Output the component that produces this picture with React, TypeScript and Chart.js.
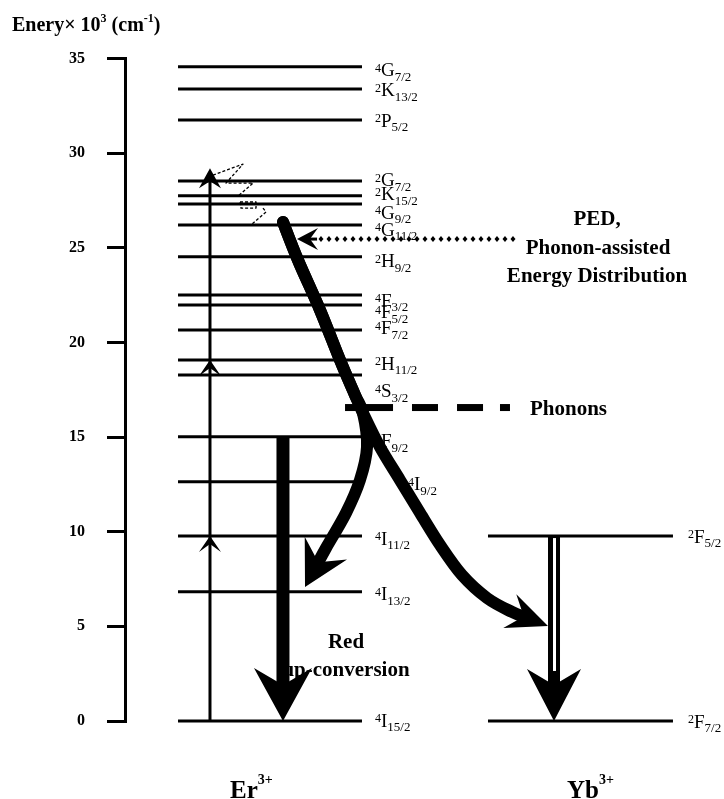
import React, { useEffect, useRef } from "react";
import { Chart, registerables } from "chart.js";

Chart.register(...registerables);

// ---------------- data ----------------
// Er3+ levels (energy in 10^3 cm^-1)
const erMultiplicity = ["4", "2", "2", "2", "2", "4", "4", "2", "4", "4", "4", "2", "4", "4", "4", "4", "4", "4"];
const erLetter = ["G", "K", "P", "G", "K", "G", "G", "H", "F", "F", "F", "H", "S", "F", "I", "I", "I", "I"];
const erJ = ["7/2", "13/2", "5/2", "7/2", "15/2", "9/2", "11/2", "9/2", "3/2", "5/2", "7/2", "11/2", "3/2", "9/2", "9/2", "11/2", "13/2", "15/2"];
const erEnergy = [34.56, 33.39, 31.75, 28.53, 27.75, 27.31, 26.2, 24.53, 22.5, 21.98, 20.66, 19.07, 18.28, 15.02, 12.64, 9.77, 6.83, 0];

// Yb3+ levels
const ybMultiplicity = ["2", "2"];
const ybLetter = ["F", "F"];
const ybJ = ["5/2", "7/2"];
const ybEnergy = [9.77, 0];

const yTickValues = [0, 5, 10, 15, 20, 25, 30, 35];

// transitions (energies)
const pumpSteps = [0, 9.77, 19.07, 29.2];
const redEmission = [15.02, 0];
const ybDecay = [9.77, 0];
const pedEnergy = 25.46;
const phononEnergy = 16.56;

// curved relaxation path: x (layout units 0-100), energy
const relaxX = [26.73, 29.27, 33.0, 36.38, 38.92, 40.27];
const relaxE = [26.36, 24.35, 21.71, 19.07, 17.22, 16.27];
const redBranchX = [40.95, 39.76, 37.39, 34.01, 30.46];
const redBranchE = [14.47, 12.73, 10.99, 9.14, 7.08];
const ybBranchX = [43.15, 46.53, 49.92, 53.3, 57.02, 61.25, 65.48, 71.57];
const ybBranchE = [14.47, 12.73, 10.99, 9.3, 7.71, 6.5, 5.76, 5.02];

// phonon squiggle near top (x units, energy)
const squiggleA = [[14.89, 28.84], [19.97, 29.42], [17.09, 28.42], [21.66, 28.42], [19.12, 27.73]];
const squiggleB = [[19.46, 27.42], [22.17, 27.42], [22.17, 27.1], [19.63, 27.1], [19.46, 27.42]];
const squiggleC = [[23.35, 27.1], [23.86, 26.89], [21.49, 26.25]];

// ---------------- layout (x units) ----------------
const ER_X0 = 8.97;
const ER_X1 = 40.1;
const YB_X0 = 61.42;
const YB_X1 = 92.72;
const PUMP_X = 14.38;
const RED_X = 26.73;
const YB_ARROW_X = 72.59;
const ER_LABEL_X = 42.3;
const YB_LABEL_X = 95.26;
const PED_X0 = 65.65;
const PED_DOTS_END = 32.5;
const PED_TIP = 29.1;
const PHONON_SEGS = [[37.23, 45.35], [48.56, 52.96], [56.18, 60.58], [63.45, 65.14]];

const erLabelDy = [3, 1, 0, -1, -2, 8, 4, 4, 5, 7, -2, 3, 16, 4, 2, 2, 2, -1];
const erLabelDx = [0, 0, 0, 0, 0, 0, 0, 0, 0, 0, 0, 0, 0, 0, 33, 0, 0, 0];
const ybLabelDy = [0, 0];

const SERIF = '"Liberation Serif", "Times New Roman", serif';

function runText(ctx: CanvasRenderingContext2D, x: number, y: number, parts: [string, string, number][]) {
  let cx = x;
  for (const [t, f, dy] of parts) {
    ctx.font = f;
    ctx.fillText(t, cx, y + dy);
    cx += ctx.measureText(t).width;
  }
  return cx;
}

function head(ctx: CanvasRenderingContext2D, tx: number, ty: number, ang: number, len: number, hw: number, notch: number) {
  const c = Math.cos(ang), s = Math.sin(ang);
  const bx = tx - c * len, by = ty - s * len;
  const nx = tx - c * notch, ny = ty - s * notch;
  ctx.beginPath();
  ctx.moveTo(tx, ty);
  ctx.lineTo(bx - s * hw, by + c * hw);
  ctx.lineTo(nx, ny);
  ctx.lineTo(bx + s * hw, by - c * hw);
  ctx.closePath();
  ctx.fill();
}

function smoothPath(ctx: CanvasRenderingContext2D, pts: number[][]) {
  ctx.moveTo(pts[0][0], pts[0][1]);
  for (let i = 0; i < pts.length - 1; i++) {
    const p0 = pts[i - 1] || pts[i];
    const p1 = pts[i];
    const p2 = pts[i + 1];
    const p3 = pts[i + 2] || p2;
    ctx.bezierCurveTo(
      p1[0] + (p2[0] - p0[0]) / 6, p1[1] + (p2[1] - p0[1]) / 6,
      p2[0] - (p3[0] - p1[0]) / 6, p2[1] - (p3[1] - p1[1]) / 6,
      p2[0], p2[1]
    );
  }
}

const diagramPlugin = {
  id: "diagram",
  afterDatasetsDraw(chart: any) {
    const ctx: CanvasRenderingContext2D = chart.ctx;
    const xs = chart.scales.x, ys = chart.scales.y;
    const X = (v: number) => xs.getPixelForValue(v);
    const Y = (v: number) => ys.getPixelForValue(v);
    ctx.save();
    ctx.fillStyle = "#000";
    ctx.strokeStyle = "#000";
    ctx.textAlign = "left";
    ctx.textBaseline = "alphabetic";

    // title
    const bold = (s: number) => `bold ${s}px ${SERIF}`;
    const reg = (s: number) => `${s}px ${SERIF}`;
    runText(ctx, 12, 31, [
      ["Enery\u00d7 10", bold(20), 0],
      ["3", bold(12), -9],
      [" (cm", bold(20), 0],
      ["-1", bold(12), -9],
      [")", bold(20), 0],
    ]);

    // level labels
    const drawLevelLabel = (x: number, cy: number, m: string, l: string, j: string) => {
      runText(ctx, x, cy, [
        [m, reg(12), 2],
        [l, reg(19), 6.5],
        [j, reg(13), 11],
      ]);
    };
    erEnergy.forEach((e, i) => {
      drawLevelLabel(X(ER_LABEL_X) + erLabelDx[i], Y(e) + erLabelDy[i], erMultiplicity[i], erLetter[i], erJ[i]);
    });
    ybEnergy.forEach((e, i) => {
      drawLevelLabel(X(YB_LABEL_X), Y(e) + ybLabelDy[i], ybMultiplicity[i], ybLetter[i], ybJ[i]);
    });

    // annotation texts
    ctx.font = bold(21);
    ctx.textAlign = "center";
    ctx.fillText("PED,", 597, 225);
    ctx.fillText("Phonon-assisted", 598, 254);
    ctx.fillText("Energy Distribution", 597, 282);
    ctx.fillText("Red", 346, 648);
    ctx.fillText("up-conversion", 346, 676);
    ctx.textAlign = "left";
    ctx.fillText("Phonons", 530, 415);

    // ion names
    runText(ctx, 230, 798, [["Er", bold(25), 0], ["3+", bold(14), -14]]);
    runText(ctx, 567, 798, [["Yb", bold(25), 0], ["3+", bold(14), -14]]);

    // ---- arrows ----
    // pump arrow with stepwise absorption heads
    const px = X(PUMP_X);
    ctx.lineWidth = 3;
    ctx.lineCap = "butt";
    ctx.beginPath();
    ctx.moveTo(px, Y(pumpSteps[0]));
    ctx.lineTo(px, Y(pumpSteps[pumpSteps.length - 1]) + 10);
    ctx.stroke();
    for (let i = 1; i < pumpSteps.length; i++) {
      const top = i === pumpSteps.length - 1;
      head(ctx, px, Y(pumpSteps[i]), -Math.PI / 2, top ? 20 : 16, 11, top ? 13 : 8);
    }

    // red emission arrow
    const rx = X(RED_X);
    const rTip = Y(redEmission[1]);
    ctx.lineWidth = 13;
    ctx.beginPath();
    ctx.moveTo(rx, Y(redEmission[0]));
    ctx.lineTo(rx, rTip - 36);
    ctx.stroke();
    head(ctx, rx, rTip, Math.PI / 2, 53, 29, 36);

    // Yb decay arrow (hollow double line)
    const yx = X(YB_ARROW_X);
    const yTip = Y(ybDecay[1]);
    ctx.lineWidth = 12;
    ctx.beginPath();
    ctx.moveTo(yx, Y(ybDecay[0]));
    ctx.lineTo(yx, yTip - 34);
    ctx.stroke();
    ctx.strokeStyle = "#fff";
    ctx.lineWidth = 3;
    ctx.beginPath();
    ctx.moveTo(yx + 0.5, Y(ybDecay[0]) + 2);
    ctx.lineTo(yx + 0.5, yTip - 50);
    ctx.stroke();
    ctx.strokeStyle = "#000";
    head(ctx, yx, yTip, Math.PI / 2, 52, 27, 36);

    // curved relaxation arrows
    const curved = (bx: number[], be: number[], len: number, hw: number, notch: number) => {
      const pts: number[][] = relaxX.map((v, i) => [X(v), Y(relaxE[i])]);
      for (let i = 0; i < bx.length - 1; i++) pts.push([X(bx[i]), Y(be[i])]);
      const tip = [X(bx[bx.length - 1]), Y(be[be.length - 1])];
      const prev = pts[pts.length - 1];
      const ang = Math.atan2(tip[1] - prev[1], tip[0] - prev[0]);
      pts.push([tip[0] - Math.cos(ang) * notch, tip[1] - Math.sin(ang) * notch]);
      ctx.lineWidth = 12;
      ctx.lineCap = "round";
      ctx.lineJoin = "round";
      ctx.beginPath();
      smoothPath(ctx, pts);
      ctx.stroke();
      head(ctx, tip[0], tip[1], ang, len, hw, notch);
    };
    curved(redBranchX, redBranchE, 44, 24, 28);
    curved(ybBranchX, ybBranchE, 41, 18, 26);

    // PED dotted arrow
    const pedY = Y(pedEnergy);
    for (let x = X(PED_X0); x >= X(PED_DOTS_END); x -= 8) {
      ctx.beginPath();
      ctx.moveTo(x, pedY - 3);
      ctx.lineTo(x + 2.5, pedY);
      ctx.lineTo(x, pedY + 3);
      ctx.lineTo(x - 2.5, pedY);
      ctx.closePath();
      ctx.fill();
    }
    ctx.lineCap = "butt";
    ctx.lineWidth = 3;
    ctx.beginPath();
    ctx.moveTo(X(PED_DOTS_END), pedY);
    ctx.lineTo(X(PED_TIP) + 10, pedY);
    ctx.stroke();
    head(ctx, X(PED_TIP), pedY, Math.PI, 21, 11, 13);

    // phonon dash-dot line
    const phY = Y(phononEnergy);
    PHONON_SEGS.forEach(([a, b]) => {
      ctx.fillRect(X(a), phY - 3.5, X(b) - X(a), 7);
    });

    // phonon squiggle
    ctx.lineWidth = 1.3;
    ctx.setLineDash([3, 2]);
    [squiggleA, squiggleB, squiggleC].forEach((pl) => {
      ctx.beginPath();
      pl.forEach(([u, e], i) => (i ? ctx.lineTo(X(u), Y(e)) : ctx.moveTo(X(u), Y(e))));
      ctx.stroke();
    });
    ctx.setLineDash([]);

    ctx.restore();
  },
};

export default function App() {
  const ref = useRef<HTMLCanvasElement | null>(null);
  useEffect(() => {
    if (!ref.current) return;
    const levelDs = (x0: number, x1: number, e: number) => ({
      data: [{ x: x0, y: e }, { x: x1, y: e }],
      showLine: true,
      borderColor: "#000",
      borderWidth: 3,
      pointRadius: 0,
      pointHoverRadius: 0,
      clip: false,
    });
    const datasets = [
      ...erEnergy.map((e) => levelDs(ER_X0, ER_X1, e)),
      ...ybEnergy.map((e) => levelDs(YB_X0, YB_X1, e)),
    ];
    const chart = new Chart(ref.current, {
      type: "scatter",
      data: { datasets },
      options: {
        animation: false,
        responsive: true,
        maintainAspectRatio: false,
        devicePixelRatio: 1,
        events: [],
        layout: { padding: { top: 58.5, bottom: 78, left: 0, right: 8 } },
        plugins: { legend: { display: false }, tooltip: { enabled: false } },
        scales: {
          x: { type: "linear", min: 0, max: 100, display: false },
          y: {
            type: "linear",
            min: 0,
            max: 35,
            afterBuildTicks: (scale: any) => {
              scale.ticks = yTickValues.map((v) => ({ value: v }));
            },
            afterFit: (scale: any) => {
              scale.width = 125;
            },
            ticks: {
              color: "#000",
              padding: 22,
              font: { family: SERIF, size: 16, weight: "bold" },
              callback: (v: any) => String(v),
            },
            grid: {
              drawOnChartArea: false,
              drawTicks: true,
              tickLength: 18,
              lineWidth: 3,
              color: "#000",
            },
            border: { display: true, color: "#000", width: 3 },
          },
        },
      },
      plugins: [diagramPlugin],
    } as any);
    return () => chart.destroy();
  }, []);
  return (
    <div style={{ position: "fixed", left: 0, top: 0, width: 724, height: 799, background: "#fff" }}>
      <canvas ref={ref} style={{ display: "block" }} />
    </div>
  );
}
